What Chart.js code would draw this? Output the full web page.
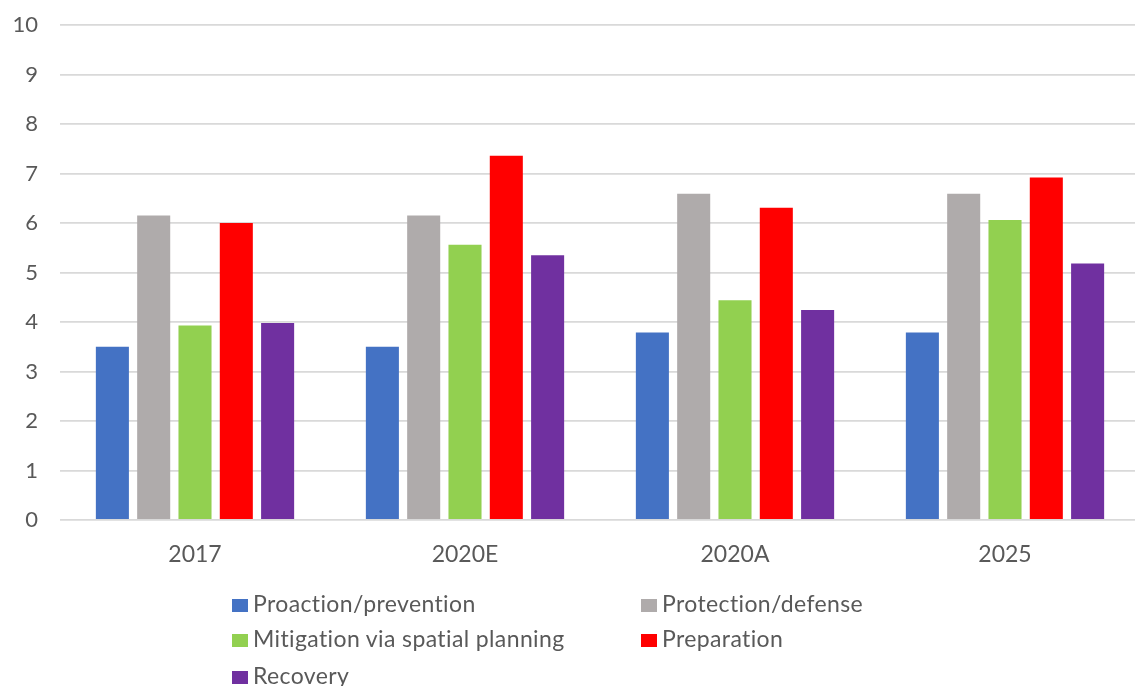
<!DOCTYPE html>
<html>
<head>
<meta charset="utf-8">
<script src="https://cdn.jsdelivr.net/npm/chart.js@4.4.0/dist/chart.umd.min.js"></script>
<style>
  html, body { margin: 0; padding: 0; background: #fff; overflow: hidden; width: 1135px; height: 686px; }
  #wrap { position: absolute; left: 0; top: 0; width: 1145px; height: 580px; }
  #legend { position: absolute; left: 0; top: 0; width: 1135px; height: 686px; pointer-events: none;
            font-family: Lato, "Open Sans", sans-serif; font-size: 23px; letter-spacing: 0.38px; color: #595959; }
  .item { position: absolute; white-space: nowrap; line-height: 26px; height: 26px; }
  .box { display: inline-block; width: 16px; height: 13px; margin-right: 5px; vertical-align: middle; position: relative; top: -1px; }
</style>
</head>
<body>
<div id="wrap"><canvas id="c" width="1145" height="580"></canvas></div>
<div id="legend"></div>
<script>
const categories = ["2017", "2020E", "2020A", "2025"];
const seriesNames = ["Proaction/prevention", "Protection/defense", "Mitigation via spatial planning", "Preparation", "Recovery"];
const proaction  = [3.5, 3.5, 3.79, 3.79];
const protection = [6.15, 6.15, 6.59, 6.59];
const mitigation = [3.93, 5.56, 4.44, 6.06];
const preparation = [6.0, 7.36, 6.31, 6.92];
const recovery   = [3.98, 5.35, 4.24, 5.18];
const yTicks = [0, 1, 2, 3, 4, 5, 6, 7, 8, 9, 10];
const colors = ["#4472C4", "#AFABAB", "#92D050", "#FF0000", "#7030A0"];

const values = [proaction, protection, mitigation, preparation, recovery];
const datasets = values.map((v, i) => ({
  label: seriesNames[i],
  data: v,
  backgroundColor: colors[i],
  borderWidth: 0,
  categoryPercentage: 0.765,
  barPercentage: 0.8
}));

const fam = "Lato, 'Open Sans', sans-serif";

const chart = new Chart(document.getElementById("c"), {
  type: "bar",
  data: { labels: categories, datasets },
  options: {
    responsive: false,
    animation: false,
    layout: { padding: { top: 25, right: 5, left: 0, bottom: 0 } },
    plugins: { legend: { display: false }, tooltip: { enabled: false } },
    scales: {
      x: {
        grid: { display: false, drawTicks: false },
        border: { display: false },
        ticks: { color: "#595959", font: { family: fam, size: 23 }, padding: 21 },
        afterFit: s => { s.height = 60; s.paddingLeft = 0; s.paddingRight = 0; }
      },
      y: {
        min: 0, max: 10,
        afterBuildTicks: s => { s.ticks = yTicks.map(v => ({ value: v })); },
        grid: { color: "#d9d9d9", lineWidth: 1.8, drawTicks: false },
        border: { display: false },
        ticks: { color: "#595959", font: { family: fam, size: 22 }, padding: 22 },
        afterFit: s => { s.width = 60; s.paddingTop = 0; s.paddingBottom = 0; }
      }
    }
  }
});

// HTML legend in two columns, as in the reference
const legend = document.getElementById("legend");
const cols = [232, 641];
const rows = [603, 638, 675];
chart.data.datasets.forEach((ds, i) => {
  const el = document.createElement("div");
  el.className = "item";
  el.style.left = cols[i % 2] + "px";
  el.style.top = (rows[Math.floor(i / 2)] - 13) + "px";
  const b = document.createElement("span");
  b.className = "box";
  b.style.background = ds.backgroundColor;
  el.appendChild(b);
  el.appendChild(document.createTextNode(ds.label));
  legend.appendChild(el);
});
</script>
</body>
</html>
